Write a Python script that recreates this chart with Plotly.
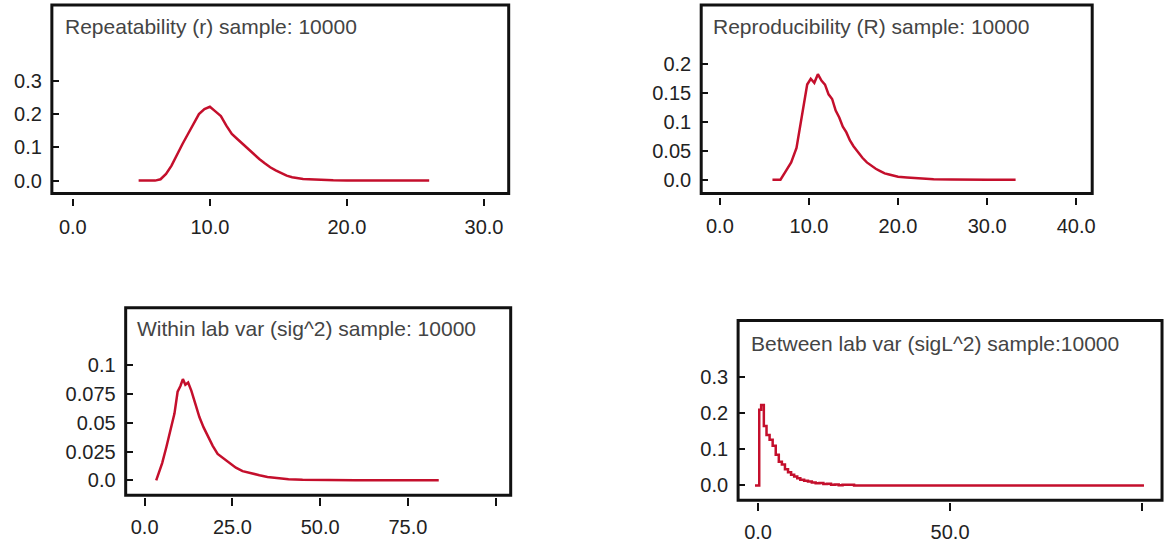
import plotly.graph_objects as go

# ---- data ----
rep_x = [4.8, 5.4, 6.0, 6.4, 6.8, 7.2, 7.6, 8.0, 8.4, 8.8, 9.2, 9.6, 10.0, 10.4, 10.8, 11.2, 11.6, 12.0,
         12.4, 12.8, 13.2, 13.6, 14.0, 14.4, 14.8, 15.2, 15.6, 16.0, 16.4, 16.8, 17.2, 18.0, 19.0, 20.0,
         22.0, 24.0, 26.0]
rep_y = [0, 0, 0, 0.004, 0.02, 0.045, 0.08, 0.11, 0.14, 0.17, 0.2, 0.215, 0.222, 0.208, 0.194, 0.165,
         0.14, 0.125, 0.11, 0.092, 0.078, 0.065, 0.052, 0.04, 0.031, 0.022, 0.015, 0.01, 0.007, 0.005,
         0.004, 0.002, 0.001, 0.0005, 0.0002, 0.0, 0.0]

repro_x = [5.9, 6.8, 7.4, 8.0, 8.6, 9.0, 9.4, 9.8, 10.2, 10.6, 11.0, 11.4, 11.8, 12.2, 12.6, 13.0, 13.4,
           13.8, 14.2, 14.6, 15.0, 15.5, 16.0, 16.5, 17.0, 17.5, 18.0, 18.5, 19.0, 19.5, 20.0, 21.0, 22.0,
           23.0, 24.0, 26.0, 28.0, 30.0, 33.2]
repro_y = [0, 0, 0.015, 0.03, 0.055, 0.09, 0.125, 0.165, 0.175, 0.168, 0.183, 0.172, 0.165, 0.148, 0.14,
           0.12, 0.108, 0.092, 0.082, 0.068, 0.058, 0.047, 0.038, 0.03, 0.024, 0.019, 0.015, 0.011, 0.009,
           0.007, 0.005, 0.004, 0.003, 0.002, 0.001, 0.0005, 0, 0, 0]

within_x = [3.3, 5.0, 6.2, 7.5, 8.5, 9.4, 10.2, 10.9, 11.6, 12.4, 13.3, 14.5, 15.6, 16.8, 18.0, 19.4, 20.8,
            22.5, 24.2, 26.0, 27.9, 30.3, 32.7, 35.0, 37.5, 41.0, 45.0, 50.0, 60.0, 70.0, 83.8]
within_y = [0, 0.015, 0.029, 0.045, 0.058, 0.077, 0.082, 0.088, 0.083, 0.085, 0.078, 0.066, 0.055, 0.046,
            0.038, 0.03, 0.023, 0.019, 0.015, 0.011, 0.008, 0.006, 0.0045, 0.003, 0.002, 0.001, 0.0005,
            0.0002, 0, 0, 0]

between_x = [-0.8, 0.3, 0.8, 1.5, 2.2, 3.0, 3.8, 4.6, 5.4, 6.2, 7.0, 7.8, 8.6, 9.4, 10.2, 11.0, 12.0, 13.0,
             14.0, 15.0, 16.0, 17.0, 18.0, 19.0, 20.0, 21.0, 22.0, 25.0, 40.0, 60.0, 80.0, 100.5]
between_y = [0, 0.21, 0.223, 0.165, 0.14, 0.127, 0.11, 0.085, 0.066, 0.058, 0.045, 0.037, 0.03, 0.025,
             0.02, 0.016, 0.013, 0.011, 0.008, 0.006, 0.007, 0.004, 0.005, 0.002, 0.003, 0.001, 0.002, 0,
             0, 0, 0, 0]

titles = ["Repeatability (r) sample: 10000", "Reproducibility (R) sample: 10000",
          "Within lab var (sig^2) sample: 10000", "Between lab var (sigL^2) sample:10000"]

x_ticks = [[0, 10, 20, 30], [0, 10, 20, 30, 40], [0, 25, 50, 75, 100], [0, 50, 100]]
x_labels = [["0.0", "10.0", "20.0", "30.0"], ["0.0", "10.0", "20.0", "30.0", "40.0"],
            ["0.0", "25.0", "50.0", "75.0", ""], ["0.0", "50.0", ""]]
y_ticks = [[0, 0.1, 0.2, 0.3], [0, 0.05, 0.1, 0.15, 0.2], [0, 0.025, 0.05, 0.075, 0.1], [0, 0.1, 0.2, 0.3]]
y_labels = [["0.0", "0.1", "0.2", "0.3"], ["0.0", "0.05", "0.1", "0.15", "0.2"],
            ["0.0", "0.025", "0.05", "0.075", "0.1"], ["0.0", "0.1", "0.2", "0.3"]]

# ---- layout geometry ----
W, H = 1173, 543
boxes = [(52, 510, 5, 195), (703, 1095, 5, 195), (126, 512, 310, 499), (740, 1165, 323, 504)]
x_ranges = [[-1.53, 31.8], [-2.1, 41.8], [-5.4, 104.3], [-5.2, 105.2]]
y_ranges = [[-0.039, 0.528], [-0.024, 0.303], [-0.013, 0.150], [-0.041, 0.457]]
xaxis_pos = [199, 198, 501, 506]
xtick_len = [7, 7, 8, 8]
title_y = [0.955, 0.955, 0.96, 0.95]

series = [(rep_x, rep_y, "linear"), (repro_x, repro_y, "linear"),
          (within_x, within_y, "linear"), (between_x, between_y, "hv")]

RED = "#c40f2c"
fig = go.Figure()
layout = dict(width=W, height=H, margin=dict(l=0, r=0, t=0, b=0),
              paper_bgcolor="white", plot_bgcolor="white", showlegend=False,
              font=dict(family="Liberation Sans, Arial, sans-serif", color="#222"))
shapes = []
annotations = []
for i in range(4):
    n = "" if i == 0 else str(i + 1)
    xl, xr, yt, yb = boxes[i]
    fig.add_trace(go.Scatter(x=series[i][0], y=series[i][1], mode="lines",
                             line=dict(color=RED, width=2.5, shape=series[i][2]),
                             xaxis="x" + n, yaxis="y" + n, hoverinfo="skip"))
    layout["xaxis" + n] = dict(domain=[xl / W, xr / W], anchor="free", position=1 - xaxis_pos[i] / H,
                               range=x_ranges[i], tickvals=x_ticks[i], ticktext=x_labels[i],
                               ticks="outside", ticklen=xtick_len[i], tickwidth=2, tickcolor="#111",
                               showgrid=False, zeroline=False, showline=False,
                               tickfont=dict(size=20, color="#222"), ticklabelstandoff=4)
    layout["yaxis" + n] = dict(domain=[1 - yb / H, 1 - yt / H], anchor="x" + n,
                               range=y_ranges[i], tickvals=y_ticks[i], ticktext=y_labels[i],
                               ticks="inside", ticklen=7, tickwidth=2, tickcolor="#111",
                               showgrid=False, zeroline=False, showline=False,
                               tickfont=dict(size=20, color="#222"), ticklabelstandoff=9)
    shapes.append(dict(type="rect", xref="x" + n + " domain", yref="y" + n + " domain",
                       x0=0, x1=1, y0=0, y1=1, line=dict(color="#111", width=3)))
    annotations.append(dict(text=titles[i], xref="x" + n + " domain", yref="y" + n + " domain",
                            x=0.025, y=title_y[i], xanchor="left", yanchor="top", showarrow=False,
                            font=dict(size=21, color="#444")))
layout["shapes"] = shapes
layout["annotations"] = annotations
fig.update_layout(**layout)
fig.write_html("out.html")
